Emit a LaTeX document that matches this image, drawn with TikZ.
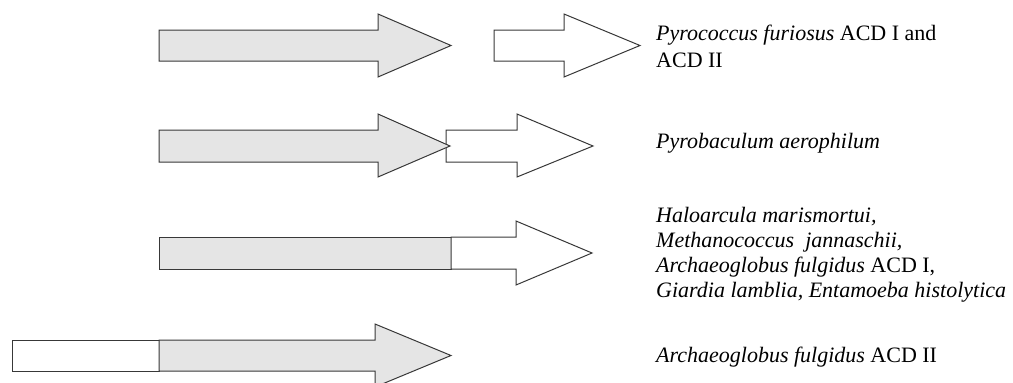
\documentclass[tikz,border=0pt]{standalone}
\usepackage{fontspec}
\setmainfont{Liberation Serif}
\begin{document}
\begin{tikzpicture}[x=1pt,y=-1pt,
  seg/.style={draw=black!78,line width=1pt,line join=miter},
  grayseg/.style={seg,fill=black!10},
  whiteseg/.style={seg,fill=white},
  lab/.style={anchor=base west,inner sep=0pt,align=left,font=\fontsize{22}{27}\selectfont}]
\useasboundingbox (0,0) rectangle (1013,383);
% row 1
\draw[grayseg] (159,30)--(378,30)--(378,14)--(451,45.5)--(378,77)--(378,61)--(159,61)--cycle;
\draw[whiteseg] (494,30)--(564,30)--(564,14)--(640,45.5)--(564,77)--(564,61)--(494,61)--cycle;
% row 2
\draw[whiteseg] (446,130)--(517,130)--(517,114)--(593,146)--(517,177)--(517,162)--(446,162)--cycle;
\draw[grayseg] (159,130)--(378,130)--(378,114)--(450,146)--(378,177)--(378,162)--(159,162)--cycle;
% row 3
\draw[grayseg] (159,237) rectangle (451,269);
\draw[whiteseg] (451,237)--(516,237)--(516,221)--(592,253)--(516,285)--(516,269)--(451,269)--cycle;
% row 4
\draw[whiteseg] (12,340) rectangle (159,371);
\draw[grayseg] (159,340)--(375,340)--(375,324)--(451,355.5)--(375,387)--(375,371)--(159,371)--cycle;
% labels (base anchor = baseline of the last line)
\node[lab] (t1) at (656,67) {\textit{Pyrococcus furiosus} ACD I and\\ACD II};
\node[lab] (t2) at (656,148) {\textit{Pyrobaculum aerophilum}};
\node[lab,font=\fontsize{22}{25}\selectfont] (t3) at (656,297) {\textit{Haloarcula marismortui,}\\\textit{Methanococcus\ \ jannaschii,}\\\textit{Archaeoglobus fulgidus} ACD I,\\\textit{Giardia lamblia, Entamoeba histolytica}};
\node[lab] (t4) at (656,362) {\textit{Archaeoglobus fulgidus} ACD II};
\end{tikzpicture}
\end{document}
